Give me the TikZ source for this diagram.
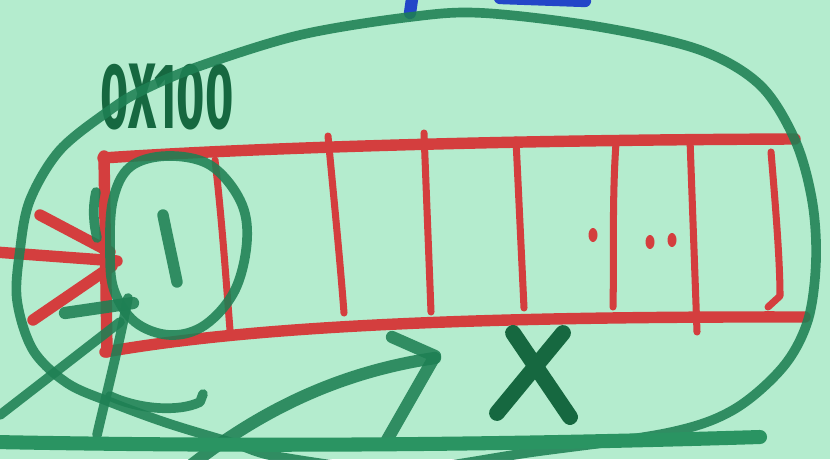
\documentclass[tikz,border=0pt]{standalone}
\usepackage{fontspec}
\newfontfamily\handfont{Fira Sans}
\definecolor{bg}{RGB}{180,236,206}
\definecolor{mgreen}{RGB}{30,128,84}
\definecolor{dgreen}{RGB}{22,104,64}
\definecolor{lgreen}{RGB}{42,148,98}
\definecolor{mred}{RGB}{212,62,62}
\definecolor{mblue}{RGB}{35,70,200}
\begin{document}
\begin{tikzpicture}[x=0.02cm,y=-0.02cm,line cap=round,line join=round,
  gstroke/.style={draw=mgreen,line width=5.5pt,draw opacity=0.88},
  gthick/.style={draw=dgreen,line width=9pt},
  rstroke/.style={draw=mred,line width=6.5pt},
  rthin/.style={draw=mred,line width=4pt},
  bstroke/.style={draw=mblue,line width=7pt},
  reddot/.style={fill=mred}]
\fill[bg] (0,0) rectangle (830,459);
\useasboundingbox (0,0) rectangle (830,459);
\clip (0,0) rectangle (830,459);

% address label (under the loop that crosses it)
\node[text=dgreen,font=\handfont\bfseries\fontsize{53}{53}\selectfont,xscale=0.52,inner sep=0pt]
  (addr) at (167,97) {0X100};

% blue marks at the top edge
\draw[bstroke] (413,-8) -- (410,13);
\draw[bstroke] (500,-2) -- (585,1);

% red strip (array)
\draw[rstroke] (103,158) .. controls (250,148) and (500,140) .. (795,139);
\draw[rstroke] (105,352) .. controls (220,332) and (400,316) .. (805,317);
\draw[rstroke] (104,156) -- (107,352);
\draw[rthin] (215,160) .. controls (222,220) and (226,280) .. (230,330);
\draw[rthin] (328,136) .. controls (334,200) and (340,260) .. (344,313);
\draw[rthin] (424,133) -- (431,312);
\draw[rthin] (516,140) -- (524,308);
\draw[rthin] (616,143) .. controls (612,200) and (614,260) .. (613,307);
\draw[rthin] (690,140) -- (697,332);
\draw[rthin] (771,152) .. controls (775,200) and (780,260) .. (780,296) -- (768,307);
\fill[reddot] (593,235) ellipse [x radius=4.5,y radius=7];
\fill[reddot] (650,242) ellipse [x radius=4.5,y radius=7];
\fill[reddot] (672,240) ellipse [x radius=4.5,y radius=7];

% red arrow from the left
\draw[rstroke] (-5,252) -- (117,261);
\draw[rstroke] (40,215) -- (110,252);
\draw[rstroke] (33,320) -- (112,266);

% big green loop
\draw[gstroke] plot[smooth cycle,tension=0.55] coordinates {
  (30,200) (60,150) (110,110) (143,90) (200,66) (300,35) (410,17) (483,13)
  (600,27) (700,50) (760,85) (795,140) (812,200) (816,260) (808,320)
  (783,367) (733,410) (667,433) (533,452) (400,470) (280,457) (233,443)
  (167,423) (110,402) (67,383) (33,350) (17,300) (20,250)};
% hook at the lower left
\draw[gstroke] (110,396) .. controls (140,410) and (180,412) .. (200,402) -- (203,394);

% small green circle with the 1
\draw[gstroke] plot[smooth cycle,tension=0.6] coordinates {
  (113,200) (130,167) (167,156) (210,165) (240,200) (247,240) (235,290)
  (205,325) (170,335) (135,322) (114,290) (110,250)};
\draw[gstroke] (96,192) .. controls (92,210) and (94,225) .. (97,238);
\draw[gstroke,line width=6.5pt] (163,215) .. controls (168,240) and (173,262) .. (177,282);

% strokes through the left edge
\draw[gstroke] (0,415) -- (120,322);
\draw[gstroke,line width=7pt] (65,313) -- (133,303);
\draw[gstroke] (128,298) .. controls (118,350) and (105,400) .. (97,435);

% green arrow
\draw[gstroke,line width=7pt] (185,470) .. controls (260,410) and (340,372) .. (435,358);
\draw[gstroke,line width=7pt] (392,337) -- (435,356) -- (387,440);

% green X
\draw[gthick] (513,333) -- (570,417);
\draw[gthick] (563,333) -- (497,413);

% bottom line
\draw[draw=lgreen,line width=8pt] (-5,442) .. controls (250,447) and (500,445) .. (760,437);
\end{tikzpicture}
\end{document}
